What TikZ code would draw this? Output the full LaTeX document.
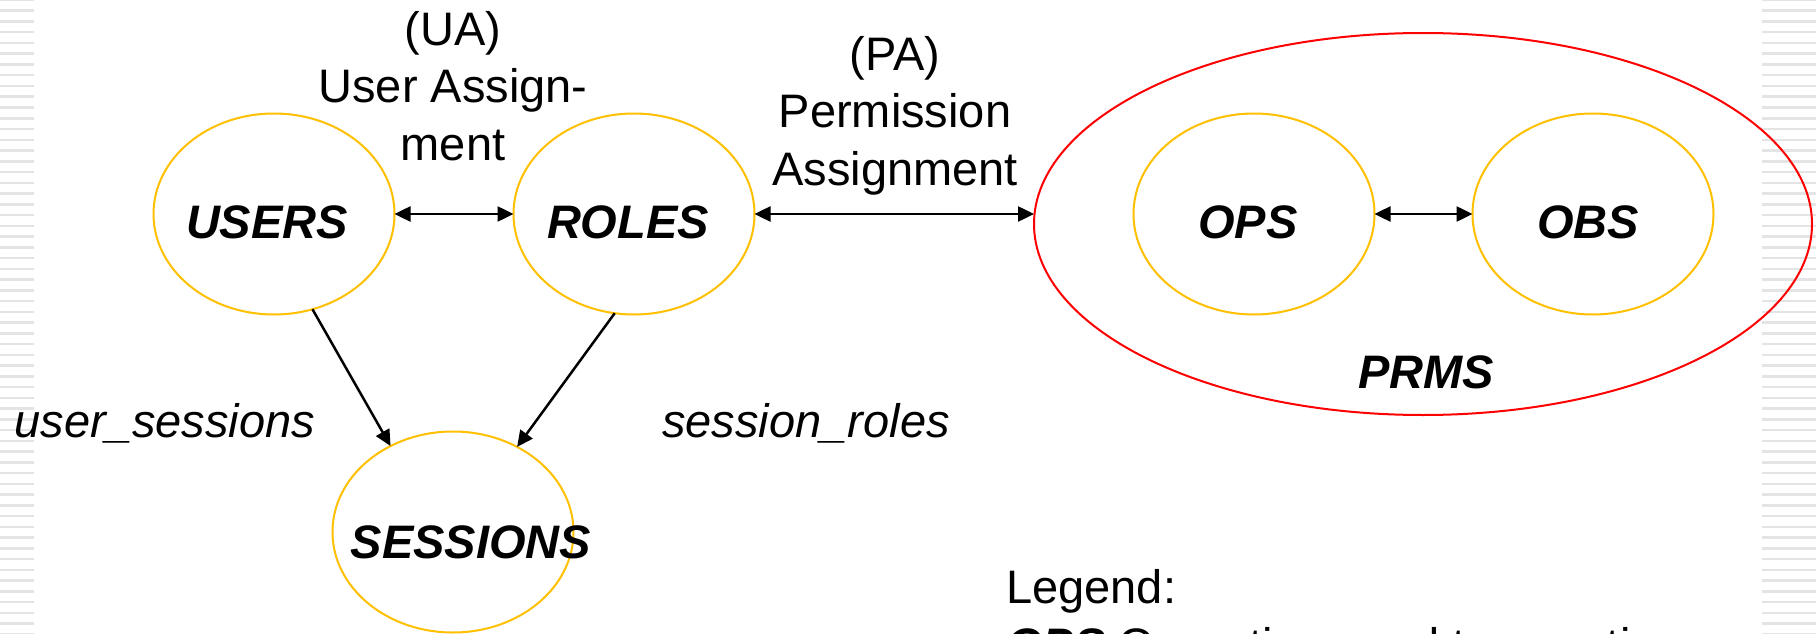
\documentclass[tikz,border=0pt]{standalone}
\usepackage{fontspec}
\setmainfont{Liberation Sans}
\usetikzlibrary{shapes.geometric,arrows.meta}
\definecolor{gold}{HTML}{FFC000}
\definecolor{stripe}{HTML}{E4E4E4}
\begin{document}
\begin{tikzpicture}[x=1pt,y=-1pt,
  set/.style={ellipse,draw=gold,line width=2pt,minimum width=241pt,minimum height=201pt,inner sep=0pt,outer sep=0pt},
  setname/.style={font=\fontsize{47}{57}\selectfont\bfseries\itshape,anchor=base,inner sep=0pt},
  lbl/.style={font=\fontsize{47}{57.5}\selectfont,align=center,inner sep=0pt,anchor=base},
  rellbl/.style={font=\fontsize{47}{57}\selectfont\itshape,anchor=base,inner sep=0pt},
  tip/.tip={Triangle[length=16pt,width=15pt]},
  rel/.style={line width=2.5pt,-tip},
  birel/.style={line width=2.5pt,tip-tip},
]
\useasboundingbox (0,0) rectangle (1816,634);
\fill[white] (0,0) rectangle (1816,634);
% striped side margins
\foreach \k in {0,...,59} {
  \draw[stripe,line width=2.5pt] (0,{10.75*\k}) -- (34,{10.75*\k});
  \draw[stripe,line width=2.5pt] (1762,{10.75*\k}) -- (1816,{10.75*\k});
}

% permission set
\node[ellipse,draw=red,line width=2pt,minimum width=778pt,minimum height=382pt,inner sep=0pt,outer sep=0pt] (prms) at (1423,224) {};

% sets
\node[set] (users) at (274,214) {};
\node[set] (roles) at (634,214) {};
\node[set] (sessions) at (453,532) {};
\node[set] (ops) at (1254,214) {};
\node[set] (obs) at (1593,214) {};

\node[setname] (usersname) at (267,238) {USERS};
\node[setname] (rolesname) at (628,238) {ROLES};
\node[setname] (sessionsname) at (471,558) {SESSIONS};
\node[setname] (opsname) at (1248,238) {OPS};
\node[setname] (obsname) at (1588,238) {OBS};
\node[setname] (prmsname) at (1426,388) {PRMS};

% relations
\draw[birel] (users.east) -- (roles.west);
\draw[birel] (roles.east) -- (roles.east -| prms.west);
\draw[birel] (ops.east) -- (obs.west);
\draw[rel] (users.-68) -- (sessions.126);
\draw[rel] (roles.-101) -- (sessions.53);

% relation labels (base anchor sits on the last line)
\node[lbl] (ua) at (453,160) {(UA)\\User Assign-\\ment};
\node[lbl] (pa) at (895,185) {(PA)\\Permission\\Assignment};
\node[rellbl] (us) at (165,437) {user\_sessions};
\node[rellbl] (sr) at (806,437) {session\_roles};

% legend, its second line running past the lower edge
\node[font=\fontsize{47}{57.5}\selectfont,align=left,inner sep=0pt,anchor=base west] (legend) at (1006,661)
  {Legend:\\\textbf{\textit{OPS}} Operations and transactions};
\end{tikzpicture}
\end{document}
